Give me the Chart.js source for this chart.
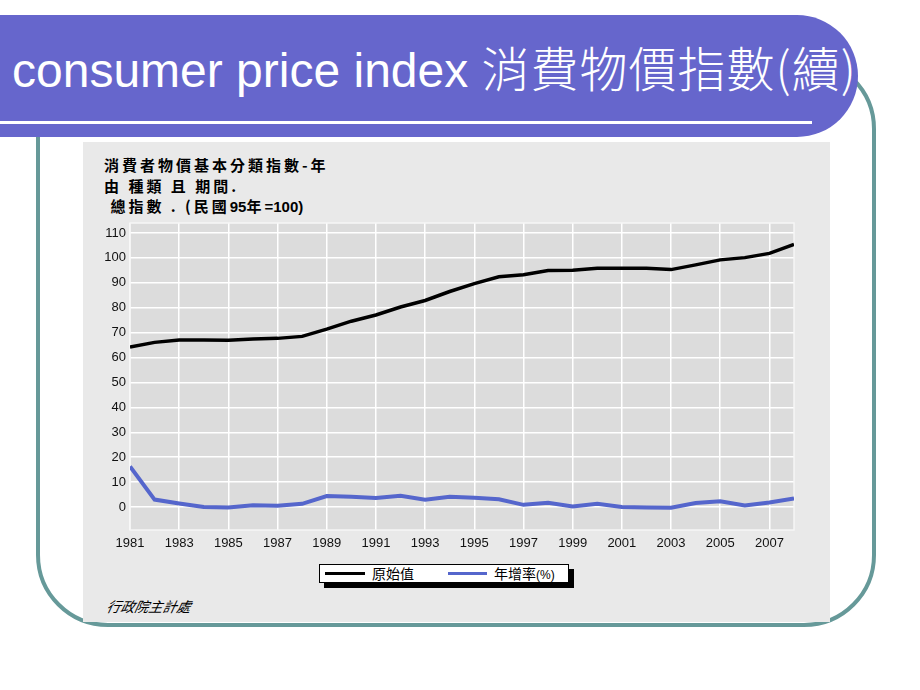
<!DOCTYPE html>
<html>
<head>
<meta charset="utf-8">
<script src="https://cdn.jsdelivr.net/npm/chart.js@4.4.1/dist/chart.umd.min.js"></script>
<style>
  html, body { margin: 0; padding: 0; }
  body { width: 920px; height: 690px; background: #fff; position: relative; overflow: hidden; font-family: "Liberation Sans", Arial, sans-serif; }
  .frame { position: absolute; left: 36px; top: 57px; width: 840px; height: 570px; box-sizing: border-box; border: 4.5px solid #669999; border-radius: 72px; }
  .titlebar { position: absolute; left: 0; top: 15px; width: 858px; height: 122px; background: #6666cc; border-radius: 0 61px 61px 0; }
  .titleline { position: absolute; left: 0; top: 121px; width: 812px; height: 3px; background: #fff; }
  .titletext { position: absolute; left: 12px; top: 40px; color: #fff; font-size: 48px; line-height: 52px; white-space: nowrap; font-family: "Liberation Sans", Arial, sans-serif; }
  .titletext .cjk { font-family: "Noto Sans CJK TC", sans-serif; font-weight: 300; letter-spacing: 1px; }
  .panel { position: absolute; left: 83px; top: 142px; width: 747px; height: 480px; background: #e9e9e9; }
  .ptitle { position: absolute; left: 104px; top: 155px; font-family: "Noto Sans CJK TC", sans-serif; font-weight: 700; font-size: 15px; line-height: 20.5px; color: #000; white-space: pre; letter-spacing: 3px; }
  .ptitle .num { font-family: "Liberation Sans", Arial, sans-serif; letter-spacing: 0; }
  .legend { position: absolute; left: 319px; top: 564px; width: 250px; height: 19px; box-sizing: border-box; border: 1px solid #000; background: #fff; box-shadow: 5px 5px 0 #000; font-family: "Noto Sans CJK TC", sans-serif; font-size: 14px; line-height: 17px; color: #000; white-space: nowrap; }
  .legend .s { position: absolute; top: 7px; height: 3px; }
  .legend .t { position: absolute; top: 0; }
  .source { position: absolute; left: 105px; top: 596px; font-family: "Noto Sans CJK TC", sans-serif; font-size: 14px; font-style: italic; color: #000; transform: skewX(-12deg); transform-origin: left bottom; }
  #c { position: absolute; left: 0; top: 0; }
</style>
</head>
<body>
<div class="frame"></div>
<div class="titlebar"></div>
<div class="titleline"></div>
<div class="titletext">consumer price index <span class="cjk">消費物價指數(續)</span></div>
<div class="panel"></div>
<div class="ptitle">消費者物價基本分類指數-年
由 種類 且 期間.
 總指數 . (民國<span class="num">95</span>年<span class="num">=100)</span></div>
<div class="legend">
  <div class="s" style="left:5px;width:40px;background:#000;"></div>
  <div class="t" style="left:52px;">原始值</div>
  <div class="s" style="left:128px;width:39px;background:#5566cc;"></div>
  <div class="t" style="left:174px;">年增率<span style="font-size:12px;font-family:'Liberation Sans',Arial,sans-serif;">(%)</span></div>
</div>
<div class="source">行政院主計處</div>
<canvas id="c" width="920" height="690"></canvas>
<script>
const years = [1981,1982,1983,1984,1985,1986,1987,1988,1989,1990,1991,1992,1993,1994,1995,1996,1997,1998,1999,2000,2001,2002,2003,2004,2005,2006,2007,2008];
const cpiValues = [64.2,66.1,67.0,67.0,66.9,67.4,67.7,68.5,71.4,74.6,77.1,80.3,82.9,86.5,89.7,92.4,93.2,94.9,95.0,95.8,95.8,95.8,95.3,97.2,99.2,100.1,101.8,105.4];
const growthValues = [16.3,3.0,1.4,0.0,-0.2,0.7,0.5,1.3,4.4,4.1,3.6,4.5,2.9,4.1,3.7,3.1,0.9,1.7,0.2,1.3,0.0,-0.2,-0.3,1.6,2.3,0.6,1.8,3.5];
const xTickLabels = [1981,1983,1985,1987,1989,1991,1993,1995,1997,1999,2001,2003,2005,2007];
const yTickLabels = [0,10,20,30,40,50,60,70,80,90,100,110];
const seriesNames = ['原始值','年增率(%)'];

const plotBg = {
  id: 'plotBg',
  beforeDraw(chart) {
    const {ctx, chartArea: a} = chart;
    ctx.save();
    ctx.fillStyle = '#dcdcdc';
    ctx.fillRect(a.left, a.top, a.right - a.left, a.bottom - a.top);
    ctx.restore();
  },
  beforeDatasetsDraw(chart) {
    const {ctx, chartArea: a} = chart;
    ctx.save();
    ctx.strokeStyle = '#f6f6f6';
    ctx.lineWidth = 1.5;
    ctx.strokeRect(a.left, a.top, a.right - a.left, a.bottom - a.top);
    ctx.restore();
  }
};

new Chart(document.getElementById('c'), {
  type: 'line',
  data: {
    datasets: [
      { label: seriesNames[0], data: years.map((y, i) => ({x: y, y: cpiValues[i]})), borderColor: '#000', borderWidth: 3.5, pointRadius: 0, tension: 0 },
      { label: seriesNames[1], data: years.map((y, i) => ({x: y, y: growthValues[i]})), borderColor: '#5566cc', borderWidth: 4, pointRadius: 0, tension: 0 }
    ]
  },
  options: {
    responsive: false,
    animation: false,
    events: [],
    layout: { padding: { left: 90, right: 126, top: 223, bottom: 130 } },
    plugins: { legend: { display: false }, tooltip: { enabled: false } },
    scales: {
      x: {
        type: 'linear', min: 1981, max: 2008,
        afterBuildTicks: s => { s.ticks = xTickLabels.map(v => ({value: v})); },
        afterFit: s => { s.height = 30; },
        grid: { color: '#ffffff', lineWidth: 1.5, drawTicks: false },
        border: { display: false },
        ticks: { padding: 6, color: '#111', font: { family: 'Liberation Sans', size: 13 }, callback: v => String(v), maxRotation: 0, autoSkip: false }
      },
      y: {
        type: 'linear', min: -9.2, max: 114,
        afterBuildTicks: s => { s.ticks = yTickLabels.map(v => ({value: v})); },
        afterFit: s => { s.width = 40; },
        grid: { color: '#ffffff', lineWidth: 1.5, drawTicks: false },
        border: { display: false },
        ticks: { padding: 4, color: '#111', font: { family: 'Liberation Sans', size: 13 }, callback: v => String(v), autoSkip: false }
      }
    }
  },
  plugins: [plotBg]
});
</script>
</body>
</html>
